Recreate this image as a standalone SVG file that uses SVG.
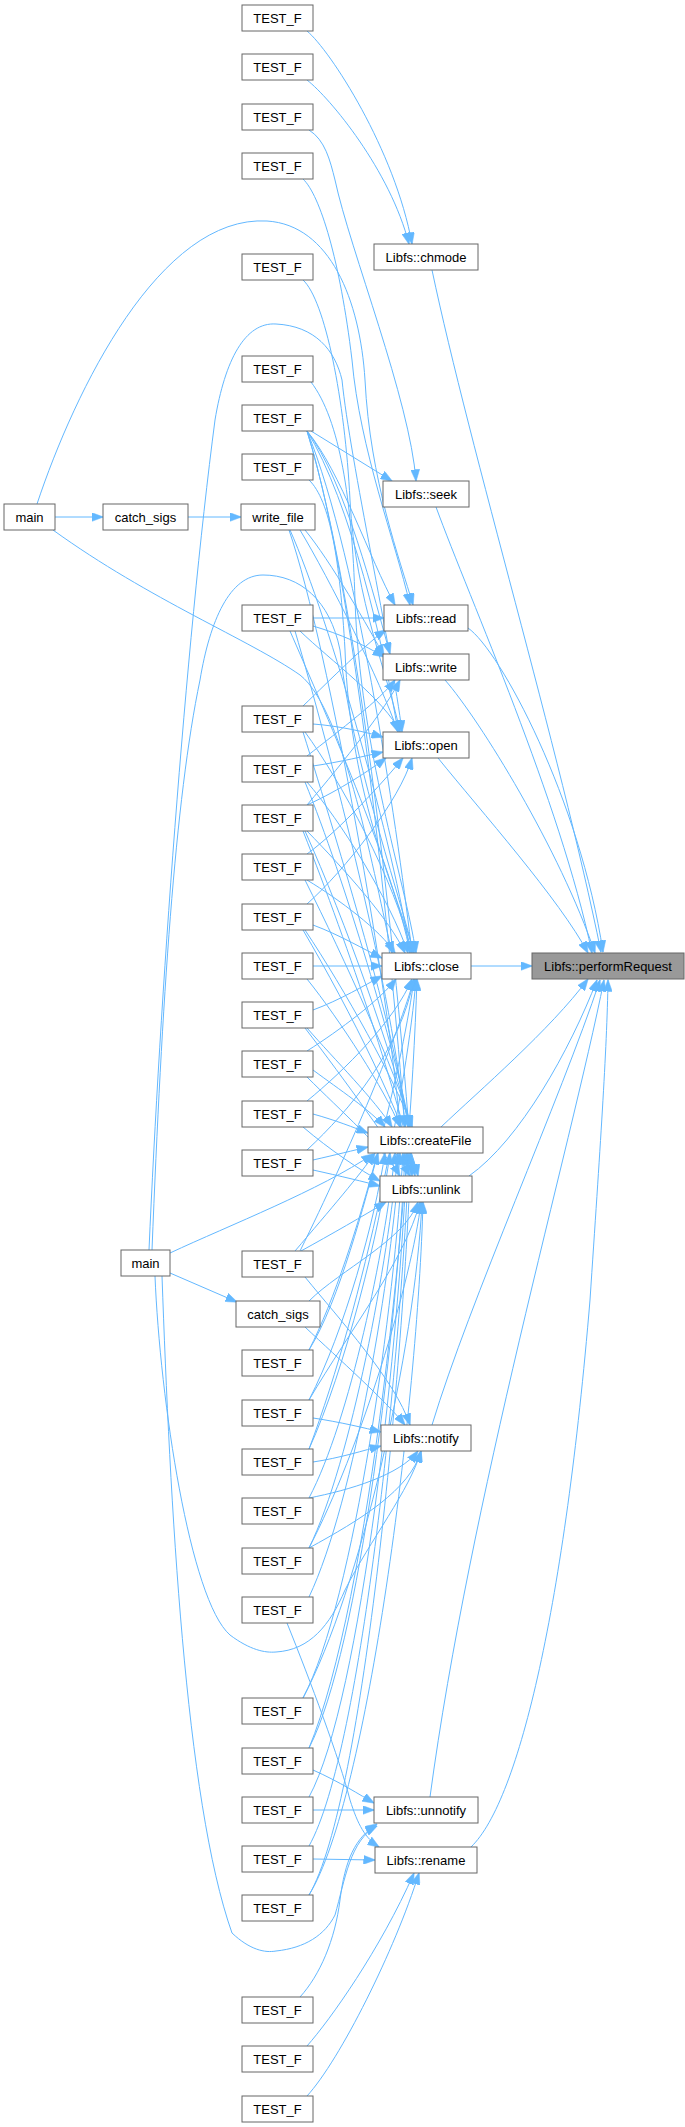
<svg xmlns="http://www.w3.org/2000/svg" width="685" height="2127" viewBox="0 0 685 2127">
<style>
.n rect{fill:#ffffff;stroke:#666666;stroke-width:1}
.n.hl rect{fill:#999999}
.n text{font-family:"Liberation Sans",Arial,sans-serif;font-size:13px;fill:#000000;text-anchor:middle}
.e path{fill:none;stroke:#63b8ff;stroke-width:1;marker-end:url(#ah)}
</style>
<defs>
<marker id="ah" markerUnits="userSpaceOnUse" markerWidth="12" markerHeight="9" refX="11.5" refY="4.5" orient="auto">
<path d="M0,0 L12,4.5 L0,9 z" fill="#63b8ff" stroke="#63b8ff" stroke-width="0.5"/>
</marker>
</defs>
<rect width="685" height="2127" fill="#ffffff"/>
<g id="edges" class="e">
<!-- to performRequest -->
<path d="M432,270 C470,450 560,750 601,952"/>
<path d="M436,507 C470,600 560,800 592,953"/>
<path d="M468,628 C500,650 580,800 603,952"/>
<path d="M445,680 C480,720 560,850 595,953"/>
<path d="M438,758 C480,810 560,900 588,953"/>
<path d="M471,966 L532,966"/>
<path d="M441,1127 C480,1090 550,1030 588,979"/>
<path d="M469,1176 C520,1140 570,1050 597,980"/>
<path d="M432,1425 C470,1300 560,1100 600,980"/>
<path d="M430,1797 C470,1500 570,1150 604,980"/>
<path d="M471,1847 C520,1800 565,1600 590,1300 C600,1150 607,1050 608,980"/>
<!-- upper callers -->
<path d="M307,31 C330,50 395,150 412,244"/>
<path d="M307,80 C330,98 390,170 409,244"/>
<path d="M309,130 C325,140 330,160 335,180 C350,250 410,400 416,481"/>
<path d="M303,179 C320,195 340,260 352,360 C360,450 395,540 410,605"/>
<path d="M303,280 C325,300 345,400 350,500 C355,600 390,680 400,732"/>
<path d="M311,382 C340,420 352,500 355,600 C360,750 405,880 416,953"/>
<path d="M311,431 L392,481"/>
<path d="M307,431 C340,470 370,560 395,605"/>
<path d="M307,431 C345,480 375,600 390,654"/>
<path d="M307,431 C350,500 385,650 398,732"/>
<path d="M307,431 C360,560 400,850 412,953"/>
<path d="M307,431 C360,600 395,1000 405,1127"/>
<path d="M307,431 C365,620 405,1050 412,1176"/>
<path d="M309,480 C330,500 340,560 345,650 C350,800 400,900 414,953"/>
<path d="M55,517 L103,517"/>
<path d="M188,517 L241,517"/>
<path d="M37,504 C75,390 160,215 267,221 C330,225 360,300 365,380 C370,480 400,560 413,605"/>
<path d="M53,530 C150,600 250,640 300,675 C345,710 375,880 392,953"/>
<path d="M305,530 C330,560 370,630 384,656"/>
<path d="M300,530 C330,580 380,680 398,732"/>
<path d="M290,530 C330,620 395,850 410,953"/>
<path d="M289,530 C330,650 390,1000 400,1127"/>
<path d="M313,618 L384,618"/>
<path d="M313,626 C340,634 365,645 384,657"/>
<path d="M300,631 C330,660 385,700 400,732"/>
<path d="M290,631 C320,700 395,870 410,953"/>
<path d="M295,631 C330,750 395,1000 405,1127"/>
<path d="M303,706 C330,680 370,640 386,630"/>
<path d="M313,724 C340,726 365,732 383,737"/>
<path d="M305,732 C340,780 395,880 412,953"/>
<path d="M303,732 C340,850 395,1030 408,1127"/>
<path d="M307,756 C340,730 380,700 395,680"/>
<path d="M313,766 C340,762 365,756 383,752"/>
<path d="M307,782 C340,820 390,900 408,953"/>
<path d="M305,782 C345,880 395,1050 410,1127"/>
<path d="M307,805 C345,760 385,710 400,680"/>
<path d="M307,805 C340,790 370,770 386,758"/>
<path d="M307,831 C345,870 390,920 405,953"/>
<path d="M305,831 C345,920 395,1060 410,1127"/>
<path d="M303,831 C350,950 400,1100 415,1176"/>
<path d="M307,854 C340,830 385,780 403,758"/>
<path d="M307,880 C340,900 380,930 395,953"/>
<path d="M305,880 C345,960 395,1070 412,1127"/>
<path d="M307,904 C345,870 400,800 412,758"/>
<path d="M313,925 C340,935 365,950 382,958"/>
<path d="M305,930 C345,990 395,1080 412,1127"/>
<path d="M303,930 C350,1010 405,1120 418,1176"/>
<path d="M313,966 L382,966"/>
<path d="M307,979 C340,1020 385,1090 400,1127"/>
<path d="M313,1010 C340,1000 365,985 382,976"/>
<path d="M307,1028 C335,1060 375,1100 392,1127"/>
<path d="M305,1028 C345,1080 395,1150 410,1176"/>
<path d="M307,1051 C340,1030 380,1000 396,979"/>
<path d="M313,1070 C340,1090 370,1110 385,1127"/>
<path d="M307,1077 C340,1110 385,1150 400,1176"/>
<path d="M307,1101 C345,1070 395,1020 412,979"/>
<path d="M313,1114 C335,1120 355,1128 368,1133"/>
<path d="M303,1127 C330,1150 360,1170 380,1181"/>
<path d="M307,1150 C350,1110 400,1050 414,979"/>
<path d="M313,1160 C335,1155 355,1150 368,1147"/>
<path d="M313,1170 C340,1176 365,1182 380,1186"/>
<!-- lower callers -->
<path d="M301,1251 C330,1235 365,1215 386,1202"/>
<path d="M295,1251 C330,1210 360,1175 375,1153"/>
<path d="M300,1251 C350,1150 400,1030 414,979"/>
<path d="M305,1277 C340,1320 395,1380 410,1425"/>
<path d="M170,1273 L237,1302"/>
<path d="M170,1253 C230,1225 320,1190 373,1154"/>
<path d="M149,1250 C160,1000 185,650 215,420 C225,360 245,322 276,324 C315,326 335,350 342,380 C350,460 392,650 402,732"/>
<path d="M152,1250 C162,1000 175,800 200,680 C210,620 230,575 263,575 C300,575 330,600 340,650 C350,750 395,880 414,953"/>
<path d="M155,1276 C160,1400 190,1600 230,1635 C250,1650 265,1653 276,1652 C310,1650 330,1625 345,1590 C370,1540 410,1490 421,1451"/>
<path d="M162,1276 C170,1500 185,1800 232,1933 C250,1950 265,1953 276,1951 C305,1948 325,1935 335,1915 C345,1880 350,1840 377,1826"/>
<path d="M305,1327 C340,1360 385,1400 405,1425"/>
<path d="M309,1301 C340,1270 405,1240 418,1202"/>
<path d="M309,1350 C340,1300 365,1200 378,1153"/>
<path d="M309,1350 C360,1250 405,1050 414,979"/>
<path d="M313,1418 C340,1422 365,1428 381,1432"/>
<path d="M309,1400 C345,1330 375,1220 385,1153"/>
<path d="M309,1400 C350,1330 405,1260 420,1202"/>
<path d="M313,1462 C340,1458 365,1450 381,1446"/>
<path d="M309,1449 C345,1370 380,1230 390,1153"/>
<path d="M309,1449 C365,1300 408,1080 416,979"/>
<path d="M309,1498 C350,1420 385,1250 395,1153"/>
<path d="M309,1498 C350,1490 400,1475 418,1451"/>
<path d="M309,1548 C352,1460 388,1260 398,1153"/>
<path d="M309,1548 C360,1450 412,1280 421,1202"/>
<path d="M309,1548 C360,1520 410,1490 421,1451"/>
<path d="M309,1597 C355,1500 392,1270 400,1153"/>
<path d="M287,1623 C310,1680 340,1760 350,1800 C358,1825 365,1838 379,1847"/>
<path d="M303,1698 C355,1600 395,1300 403,1153"/>
<path d="M303,1698 C360,1590 415,1350 422,1202"/>
<path d="M313,1770 C340,1782 360,1795 374,1803"/>
<path d="M309,1748 C360,1650 398,1320 405,1153"/>
<path d="M309,1748 C370,1600 410,1200 417,979"/>
<path d="M313,1810 L374,1810"/>
<path d="M309,1797 C362,1700 400,1330 407,1153"/>
<path d="M313,1859 L375,1860"/>
<path d="M309,1846 C363,1750 402,1340 409,1153"/>
<path d="M309,1895 C365,1800 404,1350 411,1153"/>
<path d="M309,1895 C368,1800 418,1400 423,1202"/>
<path d="M300,1997 C320,1975 335,1940 340,1900 C345,1860 355,1838 377,1824"/>
<path d="M307,2046 C330,2020 380,1950 414,1873"/>
<path d="M307,2096 C340,2060 395,1950 419,1873"/>
</g>
<g id="n_perf" class="n hl"><rect x="532" y="953" width="152" height="26"/><text x="608" y="970.5">Libfs::performRequest</text></g>
<g id="n_chmode" class="n"><rect x="374" y="244" width="104" height="26"/><text x="426" y="261.5">Libfs::chmode</text></g>
<g id="n_seek" class="n"><rect x="383" y="481" width="86" height="26"/><text x="426" y="498.5">Libfs::seek</text></g>
<g id="n_read" class="n"><rect x="384" y="605" width="84" height="26"/><text x="426" y="622.5">Libfs::read</text></g>
<g id="n_write" class="n"><rect x="383" y="654" width="86" height="26"/><text x="426" y="671.5">Libfs::write</text></g>
<g id="n_open" class="n"><rect x="383" y="732" width="86" height="26"/><text x="426" y="749.5">Libfs::open</text></g>
<g id="n_close" class="n"><rect x="382" y="953" width="89" height="26"/><text x="426.5" y="970.5">Libfs::close</text></g>
<g id="n_createFile" class="n"><rect x="368" y="1127" width="115" height="26"/><text x="425.5" y="1144.5">Libfs::createFile</text></g>
<g id="n_unlink" class="n"><rect x="380" y="1176" width="92" height="26"/><text x="426" y="1193.5">Libfs::unlink</text></g>
<g id="n_notify" class="n"><rect x="381" y="1425" width="90" height="26"/><text x="426" y="1442.5">Libfs::notify</text></g>
<g id="n_unnotify" class="n"><rect x="374" y="1797" width="104" height="26"/><text x="426" y="1814.5">Libfs::unnotify</text></g>
<g id="n_rename" class="n"><rect x="375" y="1847" width="102" height="26"/><text x="426" y="1864.5">Libfs::rename</text></g>
<g id="n_main1" class="n"><rect x="4" y="504" width="51" height="26"/><text x="29.5" y="521.5">main</text></g>
<g id="n_catch1" class="n"><rect x="103" y="504" width="85" height="26"/><text x="145.5" y="521.5">catch_sigs</text></g>
<g id="n_write_file" class="n"><rect x="241" y="504" width="74" height="26"/><text x="278" y="521.5">write_file</text></g>
<g id="n_main2" class="n"><rect x="121" y="1250" width="49" height="26"/><text x="145.5" y="1267.5">main</text></g>
<g id="n_catch2" class="n"><rect x="236" y="1301" width="84" height="26"/><text x="278" y="1318.5">catch_sigs</text></g>
<g id="t1" class="n"><rect x="242" y="5" width="71" height="26"/><text x="277.5" y="22.5">TEST_F</text></g>
<g id="t2" class="n"><rect x="242" y="54" width="71" height="26"/><text x="277.5" y="71.5">TEST_F</text></g>
<g id="t3" class="n"><rect x="242" y="104" width="71" height="26"/><text x="277.5" y="121.5">TEST_F</text></g>
<g id="t4" class="n"><rect x="242" y="153" width="71" height="26"/><text x="277.5" y="170.5">TEST_F</text></g>
<g id="t5" class="n"><rect x="242" y="254" width="71" height="26"/><text x="277.5" y="271.5">TEST_F</text></g>
<g id="t6" class="n"><rect x="242" y="356" width="71" height="26"/><text x="277.5" y="373.5">TEST_F</text></g>
<g id="t7" class="n"><rect x="242" y="405" width="71" height="26"/><text x="277.5" y="422.5">TEST_F</text></g>
<g id="t8" class="n"><rect x="242" y="454" width="71" height="26"/><text x="277.5" y="471.5">TEST_F</text></g>
<g id="t9" class="n"><rect x="242" y="605" width="71" height="26"/><text x="277.5" y="622.5">TEST_F</text></g>
<g id="t10" class="n"><rect x="242" y="706" width="71" height="26"/><text x="277.5" y="723.5">TEST_F</text></g>
<g id="t11" class="n"><rect x="242" y="756" width="71" height="26"/><text x="277.5" y="773.5">TEST_F</text></g>
<g id="t12" class="n"><rect x="242" y="805" width="71" height="26"/><text x="277.5" y="822.5">TEST_F</text></g>
<g id="t13" class="n"><rect x="242" y="854" width="71" height="26"/><text x="277.5" y="871.5">TEST_F</text></g>
<g id="t14" class="n"><rect x="242" y="904" width="71" height="26"/><text x="277.5" y="921.5">TEST_F</text></g>
<g id="t15" class="n"><rect x="242" y="953" width="71" height="26"/><text x="277.5" y="970.5">TEST_F</text></g>
<g id="t16" class="n"><rect x="242" y="1002" width="71" height="26"/><text x="277.5" y="1019.5">TEST_F</text></g>
<g id="t17" class="n"><rect x="242" y="1051" width="71" height="26"/><text x="277.5" y="1068.5">TEST_F</text></g>
<g id="t18" class="n"><rect x="242" y="1101" width="71" height="26"/><text x="277.5" y="1118.5">TEST_F</text></g>
<g id="t19" class="n"><rect x="242" y="1150" width="71" height="26"/><text x="277.5" y="1167.5">TEST_F</text></g>
<g id="t20" class="n"><rect x="242" y="1251" width="71" height="26"/><text x="277.5" y="1268.5">TEST_F</text></g>
<g id="t21" class="n"><rect x="242" y="1350" width="71" height="26"/><text x="277.5" y="1367.5">TEST_F</text></g>
<g id="t22" class="n"><rect x="242" y="1400" width="71" height="26"/><text x="277.5" y="1417.5">TEST_F</text></g>
<g id="t23" class="n"><rect x="242" y="1449" width="71" height="26"/><text x="277.5" y="1466.5">TEST_F</text></g>
<g id="t24" class="n"><rect x="242" y="1498" width="71" height="26"/><text x="277.5" y="1515.5">TEST_F</text></g>
<g id="t25" class="n"><rect x="242" y="1548" width="71" height="26"/><text x="277.5" y="1565.5">TEST_F</text></g>
<g id="t26" class="n"><rect x="242" y="1597" width="71" height="26"/><text x="277.5" y="1614.5">TEST_F</text></g>
<g id="t27" class="n"><rect x="242" y="1698" width="71" height="26"/><text x="277.5" y="1715.5">TEST_F</text></g>
<g id="t28" class="n"><rect x="242" y="1748" width="71" height="26"/><text x="277.5" y="1765.5">TEST_F</text></g>
<g id="t29" class="n"><rect x="242" y="1797" width="71" height="26"/><text x="277.5" y="1814.5">TEST_F</text></g>
<g id="t30" class="n"><rect x="242" y="1846" width="71" height="26"/><text x="277.5" y="1863.5">TEST_F</text></g>
<g id="t31" class="n"><rect x="242" y="1895" width="71" height="26"/><text x="277.5" y="1912.5">TEST_F</text></g>
<g id="t32" class="n"><rect x="242" y="1997" width="71" height="26"/><text x="277.5" y="2014.5">TEST_F</text></g>
<g id="t33" class="n"><rect x="242" y="2046" width="71" height="26"/><text x="277.5" y="2063.5">TEST_F</text></g>
<g id="t34" class="n"><rect x="242" y="2096" width="71" height="26"/><text x="277.5" y="2113.5">TEST_F</text></g>
</svg>
